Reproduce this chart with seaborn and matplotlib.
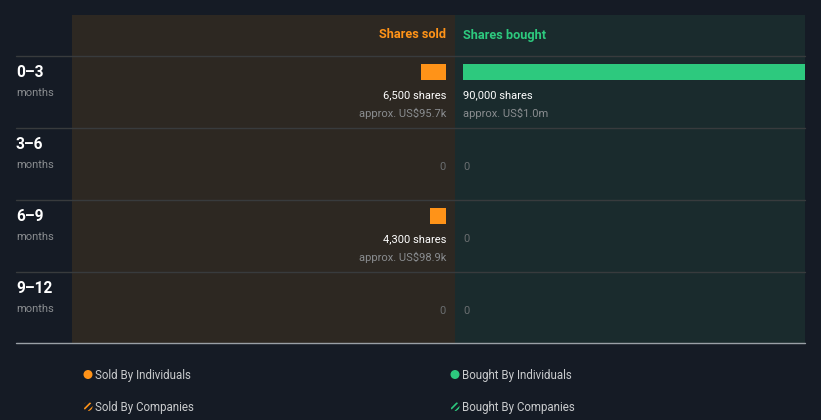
import matplotlib
matplotlib.use("Agg")
import matplotlib.pyplot as plt
import seaborn as sns

# ---- data ----
periods = ["0–3", "3–6", "6–9", "9–12"]
sold_shares = [6500, 0, 4300, 0]
bought_shares = [90000, 0, 0, 0]
sold_value = ["US$95.7k", None, "US$98.9k", None]
bought_value = ["US$1.0m", None, None, None]
legend_labels = ["Sold By Individuals", "Bought By Individuals",
                 "Sold By Companies", "Bought By Companies"]

# ---- style ----
sns.set_theme(style="dark")
plt.rcParams["font.family"] = ["Roboto", "DejaVu Sans"]
BG = "#151b25"
LEFT_BG = "#2d2822"
RIGHT_BG = "#1a2b2d"
ORANGE = "#ff9318"
GREEN = "#2dc97e"
WHITE = "#ffffff"
GREY = "#8a8d90"
LINE = "#383b3d"

W, H = 821, 420
fig = plt.figure(figsize=(W / 100, H / 100), dpi=100, facecolor=BG)

def fig_rect(x0, y0, x1, y1):
    return [x0 / W, 1 - y1 / H, (x1 - x0) / W, (y1 - y0) / H]

top, bottom = 15, 343
row_h = 72
px_per_share = 342 / 90000
bw = 16 / row_h
y_top = -bw - (56 - top) / row_h
y_bot = -bw + (bottom - 56) / row_h

# left (sold) axes
axL = fig.add_axes(fig_rect(72, top, 455, bottom))
axL.set_facecolor(LEFT_BG)
sns.barplot(x=sold_shares, y=periods, orient="h", color=ORANGE, width=bw,
            saturation=1, ax=axL, linewidth=0)
axL.set_xlim((446 - 72) / px_per_share, -(455 - 446) / px_per_share)
axL.set_ylim(y_bot, y_top)

# right (bought) axes
axR = fig.add_axes(fig_rect(455, top, 805, bottom))
axR.set_facecolor(RIGHT_BG)
sns.barplot(x=bought_shares, y=periods, orient="h", color=GREEN, width=bw,
            saturation=1, ax=axR, linewidth=0)
axR.set_xlim(-(463 - 455) / px_per_share, (805 - 463) / px_per_share)
axR.set_ylim(y_bot, y_top)

for ax in (axL, axR):
    ax.set_xticks([]); ax.set_yticks([])
    ax.set_xlabel(""); ax.set_ylabel("")
    for s in ax.spines.values():
        s.set_visible(False)

# headers
hdr_y = y_top + (35 - top) / row_h
axL.text(0, hdr_y, "Shares sold", ha="right", va="center", color=ORANGE,
         fontsize=9.2, fontweight="bold")
axR.text(0, hdr_y, "Shares bought", ha="left", va="center", color=GREEN,
         fontsize=9.2, fontweight="bold")

# value labels
off1 = -bw + 38 / row_h
off2 = -bw + 56 / row_h
for ax, shares, vals, ha in ((axL, sold_shares, sold_value, "right"),
                             (axR, bought_shares, bought_value, "left")):
    for i, (s, v) in enumerate(zip(shares, vals)):
        if s > 0:
            ax.text(0, i + off1, f"{s:,} shares", ha=ha, va="center_baseline",
                    color=WHITE, fontsize=8)
            ax.text(0, i + off2, f"approx. {v}", ha=ha, va="center_baseline",
                    color=GREY, fontsize=8)
        else:
            ax.text(0, i + off1 + 0.5 / row_h, "0", ha=ha,
                    va="center_baseline", color="#6a6e70", fontsize=8)

# overlay in pixel coords
ov = fig.add_axes([0, 0, 1, 1])
ov.set_xlim(0, W); ov.set_ylim(H, 0)
ov.axis("off")
ov.patch.set_alpha(0)

for y in (56, 128, 200, 272):
    ov.plot([16, 805], [y, y], color=LINE, lw=1)
ov.plot([16, 805], [343, 343], color="#9aa0a6", lw=1)

for i, p in enumerate(periods):
    yc = 56 + i * row_h
    ov.text(16, yc + 15, p, ha="left", va="center_baseline", color=WHITE,
            fontsize=11.2, fontweight="bold")
    ov.text(16, yc + 36.5, "months", ha="left", va="center_baseline",
            color=GREY, fontsize=8)

# legend
leg_pos = [(88, 375), (455, 375), (88, 407), (455, 407)]
leg_cols = [ORANGE, GREEN, ORANGE, GREEN]
plt.rcParams["hatch.linewidth"] = 1.2
for (x, y), c, lab, k in zip(leg_pos, leg_cols, legend_labels, range(4)):
    if k < 2:
        ov.scatter([x], [y - 0.5], s=42, color=c, edgecolor="none")
    else:
        ov.scatter([x], [y - 0.5], s=42, facecolor="none", edgecolor=c,
                   hatch="/////", linewidth=0)
    ov.text(x + 7, y - 1, lab, ha="left", va="center_baseline",
            color="#c9cbcd", fontsize=8.3)

fig.savefig("out.png", dpi=100, facecolor=BG)
